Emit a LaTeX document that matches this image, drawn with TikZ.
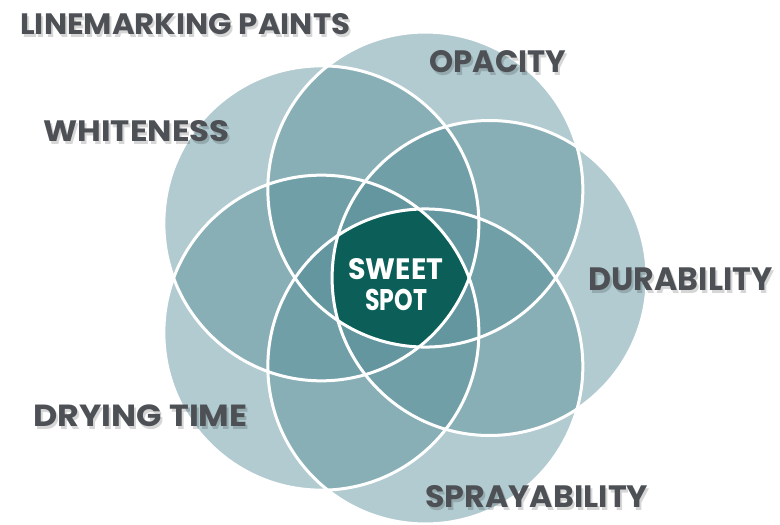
\documentclass[tikz,border=0pt]{standalone}
\usepackage{fontspec}
\setmainfont{Poppins}
\usepackage{graphicx}
\usetikzlibrary{calc}
\definecolor{labgray}{RGB}{77,81,85}
\definecolor{petal}{RGB}{85,141,152}
\definecolor{core}{RGB}{11,95,88}
\newcommand\fittext[3]{\resizebox{#1pt}{#2pt}{\bfseries #3}}
\newcommand\plabel[6]{%
  \node[shd] (#1s) at (#2+2,#3+3) {\fittext{#4}{#5}{#6}};
  \node[lab] (#1) at (#2,#3) {\fittext{#4}{#5}{#6}};}
\begin{document}
\begin{tikzpicture}[x=1pt,y=-1pt,
  lab/.style={anchor=base west,inner sep=0pt,text=labgray},
  shd/.style={anchor=base west,inner sep=0pt,text=black,text opacity=0.16},
  core text/.style={anchor=base west,inner sep=0pt,text=white},
  ring/.style={draw=white,line width=3pt},
  petalfill/.style={fill=petal,fill opacity=0.45}]
\useasboundingbox[fill=white] (0,0) rectangle (780,525);
\coordinate (C) at (396.6,278);
\foreach \a [count=\i] in {0,72,144,216,288}
  \coordinate (c\i) at ($(C)+(\a:93pt)$);
% translucent petals
\foreach \i in {1,...,5}
  \fill[petalfill] (c\i) circle[radius=157.5pt];
% sweet spot = intersection of all five
\begin{scope}
  \clip (c1) circle[radius=157.5pt];
  \clip (c2) circle[radius=157.5pt];
  \clip (c3) circle[radius=157.5pt];
  \clip (c4) circle[radius=157.5pt];
  \clip (c5) circle[radius=157.5pt];
  \fill[core] (C) circle[radius=120pt];
\end{scope}
% white outlines
\foreach \i in {1,...,5}
  \draw[ring] (c\i) circle[radius=157.5pt];
% labels
\plabel{title}{20}{34.3}{330}{21}{LINEMARKING PAINTS}
\plabel{whiteness}{43.3}{141.7}{186}{21}{WHITENESS}
\plabel{opacity}{429.3}{72.7}{137}{22}{OPACITY}
\plabel{durability}{588.3}{290}{184}{22.7}{DURABILITY}
\plabel{drying}{33.3}{426.7}{214}{21.7}{DRYING TIME}
\plabel{spray}{425}{507.3}{223}{22}{SPRAYABILITY}
\node[core text] (sweet) at (348.3,279.3) {\fittext{95}{21}{SWEET}};
\node[core text] (spot) at (365,310.7) {\fittext{62}{21.3}{SPOT}};
\end{tikzpicture}
\end{document}
